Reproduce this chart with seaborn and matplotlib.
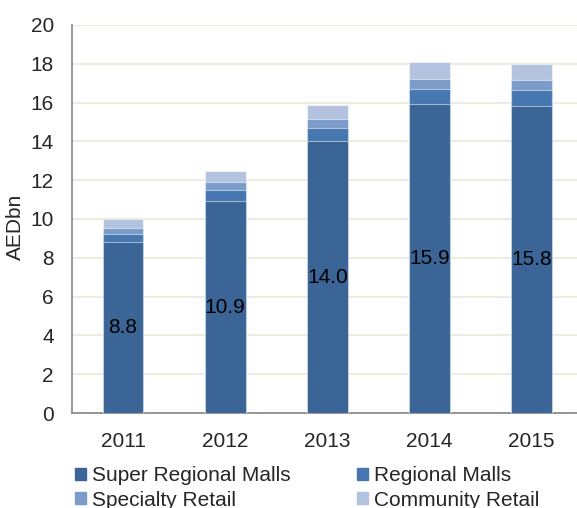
import matplotlib
matplotlib.use("Agg")
import matplotlib.pyplot as plt
import matplotlib.patches as mpatches
import numpy as np
import pandas as pd
import seaborn as sns

years = ["2011", "2012", "2013", "2014", "2015"]
super_regional = [8.8, 10.9, 14.0, 15.9, 15.8]
regional = [0.45, 0.6, 0.7, 0.8, 0.85]
specialty = [0.3, 0.4, 0.45, 0.5, 0.5]
community = [0.45, 0.55, 0.7, 0.9, 0.85]

series = ["Super Regional Malls", "Regional Malls", "Specialty Retail", "Community Retail"]
colors = ["#3b6497", "#4677b0", "#7b9bc8", "#b3c3df"]

df = pd.DataFrame({"year": years,
                   "Super Regional Malls": super_regional,
                   "Regional Malls": regional,
                   "Specialty Retail": specialty,
                   "Community Retail": community})
cum = df[series].cumsum(axis=1)
cum["year"] = df["year"]

sns.set_style("white")
plt.rcParams["font.family"] = ["Liberation Sans", "DejaVu Sans"]
fs = 15

fig = plt.figure(figsize=(5.77, 5.08), dpi=100)
ax = fig.add_axes([0.1248, 0.187, 0.885, 0.764])

# draw the stacks from the top down so each shorter bar sits over the taller one
for name, color in reversed(list(zip(series, colors))):
    sns.barplot(data=cum, x="year", y=name, color=color, width=0.4, ax=ax,
                saturation=1, edgecolor=(1, 1, 1, 0.5), linewidth=0.8, zorder=3)

for i, v in enumerate(super_regional):
    ax.text(i, v / 2, f"{v:.1f}", ha="center", va="center", fontsize=fs, color="black", zorder=4)

ax.set_xlim(-0.5, 4.5)
ax.set_ylim(0, 20)
ax.set_yticks(np.arange(0, 21, 2))
ax.yaxis.grid(True, color="#eeece1", linewidth=1.5, zorder=0)
ax.set_axisbelow(True)
ax.set_xlabel("")
ax.set_ylabel("AEDbn", fontsize=fs)
ax.yaxis.set_label_coords(-0.092, 0.479)

for side in ("top", "right"):
    ax.spines[side].set_visible(False)
for side in ("left", "bottom"):
    ax.spines[side].set_color("#868686")
    ax.spines[side].set_linewidth(1.2)

ax.tick_params(axis="y", direction="in", length=4, color="#868686", labelsize=fs, pad=13)
ax.tick_params(axis="x", which="major", length=0, labelsize=fs, pad=14)
ax.set_xticks(np.arange(0.5, 4.5, 1), minor=True)
ax.tick_params(axis="x", which="minor", direction="in", length=4, color="#868686")

handles = [mpatches.Patch(color=c, label=s) for s, c in zip(series, colors)]
order = [0, 2, 1, 3]
fig.legend([handles[i] for i in order], [series[i] for i in order],
           loc="upper left", bbox_to_anchor=(0.13, 0.082), ncol=2, frameon=False,
           fontsize=fs, handlelength=0.55, handleheight=0.55, handletextpad=0.25,
           columnspacing=3.2, labelspacing=0.25, borderpad=0, borderaxespad=0)

fig.savefig("out.png", dpi=100)
